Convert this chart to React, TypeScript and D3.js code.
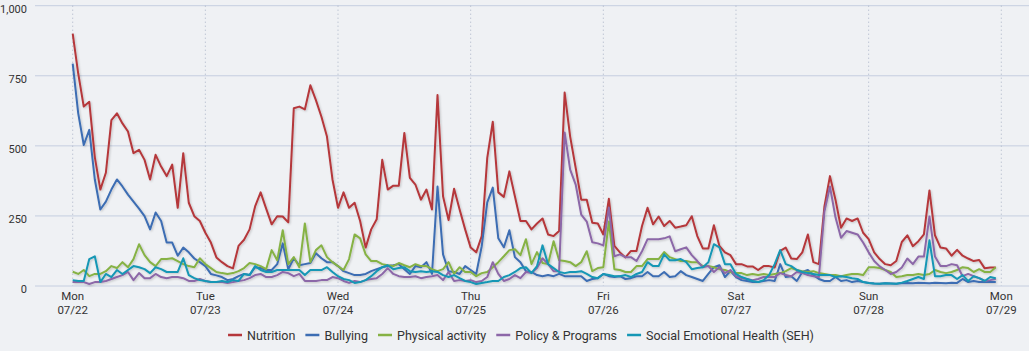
import React, { useEffect, useRef } from 'react';
import * as d3 from 'd3';

// hourly counts, Mon 07/22 00:00 .. Sun 07/28 23:00
const startDate = new Date(2019, 6, 22, 0, 0);
const endDate = new Date(2019, 6, 29, 0, 0);

const nutrition = [
  900, 758, 640, 657, 460, 344, 404, 592, 616, 580, 551, 474, 486, 450, 380, 468, 426, 392, 433, 279, 474, 297, 249, 232,
  190, 155, 102, 85, 71, 63, 143, 165, 202, 284, 334, 276, 220, 249, 248, 227, 634, 640, 630, 716, 663, 604, 533, 380,
  279, 334, 279, 297, 232, 137, 202, 238, 450, 344, 358, 358, 546, 386, 362, 308, 344, 273, 681, 320, 235, 347, 273, 202,
  137, 120, 178, 457, 586, 334, 318, 409, 320, 232, 232, 202, 223, 241, 184, 178, 196, 690, 533, 421, 308, 308, 226, 223,
  184, 311, 143, 120, 102, 125, 125, 214, 279, 220, 248, 214, 232, 208, 212, 217, 249, 178, 134, 134, 217, 143, 120, 110,
  78, 78, 70, 70, 57, 71, 71, 66, 125, 137, 98, 96, 120, 184, 85, 78, 284, 392, 308, 208, 241, 232, 241, 190,
  167, 120, 96, 78, 74, 89, 157, 181, 142, 160, 184, 341, 181, 137, 134, 108, 129, 108, 98, 89, 93, 63, 66, 66,
];

const bullying = [
  793, 616, 503, 557, 380, 273, 301, 344, 380, 355, 326, 301, 276, 249, 202, 262, 232, 155, 155, 108, 137, 120, 98, 85,
  71, 43, 38, 32, 21, 25, 35, 43, 39, 67, 64, 57, 57, 78, 152, 60, 99, 74, 78, 82, 117, 99, 85, 85,
  71, 53, 46, 39, 39, 43, 53, 60, 67, 71, 74, 78, 60, 43, 71, 67, 85, 43, 355, 113, 53, 50, 43, 71,
  57, 43, 142, 298, 351, 170, 138, 199, 103, 85, 53, 50, 39, 35, 39, 35, 43, 35, 35, 35, 35, 18, 25, 28,
  43, 35, 32, 35, 25, 28, 35, 35, 50, 35, 35, 50, 32, 35, 53, 39, 32, 25, 18, 43, 67, 74, 32, 53,
  32, 21, 18, 14, 14, 18, 21, 18, 78, 32, 35, 18, 50, 57, 39, 25, 18, 18, 32, 18, 21, 14, 18, 14,
  11, 9, 8, 10, 9, 8, 10, 11, 10, 12, 11, 10, 12, 11, 10, 12, 11, 25, 14, 18, 14, 14, 14, 14,
];

const physical = [
  51, 43, 57, 35, 43, 43, 53, 71, 64, 85, 67, 96, 149, 110, 85, 71, 96, 96, 99, 89, 78, 71, 67, 99,
  78, 64, 50, 46, 43, 46, 53, 64, 82, 78, 71, 60, 128, 92, 199, 78, 103, 67, 223, 85, 128, 145, 103, 85,
  71, 57, 96, 184, 170, 113, 89, 89, 78, 74, 71, 82, 74, 67, 78, 71, 71, 60, 53, 60, 85, 43, 67, 50,
  50, 35, 46, 50, 67, 85, 106, 128, 131, 110, 167, 78, 121, 82, 78, 160, 92, 89, 85, 71, 85, 124, 53, 64,
  67, 230, 60, 57, 50, 50, 71, 71, 96, 96, 96, 121, 103, 96, 89, 89, 85, 85, 71, 71, 67, 60, 57, 50,
  46, 46, 39, 43, 39, 43, 39, 43, 46, 53, 64, 57, 53, 50, 53, 46, 43, 39, 39, 35, 39, 43, 43, 39,
  67, 67, 64, 57, 50, 32, 35, 39, 39, 43, 39, 43, 57, 50, 46, 50, 57, 67, 64, 50, 60, 50, 50, 67,
];

const policy = [
  14, 14, 14, 7, 14, 14, 18, 25, 32, 39, 50, 21, 46, 28, 28, 43, 32, 28, 32, 32, 28, 18, 18, 25,
  18, 14, 14, 14, 11, 14, 18, 21, 28, 39, 43, 32, 32, 39, 50, 46, 35, 43, 18, 18, 18, 21, 21, 32,
  28, 18, 11, 18, 14, 21, 25, 28, 43, 64, 43, 35, 32, 32, 35, 28, 32, 35, 39, 21, 50, 18, 21, 18,
  21, 14, 18, 32, 85, 43, 18, 25, 39, 28, 50, 46, 64, 99, 78, 53, 53, 548, 415, 362, 255, 230, 156, 152,
  145, 280, 106, 113, 103, 103, 89, 124, 167, 167, 167, 170, 177, 124, 131, 138, 110, 89, 67, 71, 50, 67, 46, 57,
  35, 28, 25, 21, 25, 32, 32, 32, 46, 39, 35, 50, 46, 39, 35, 32, 266, 355, 245, 172, 196, 190, 184, 155,
  120, 89, 70, 57, 43, 50, 66, 98, 78, 105, 105, 248, 105, 71, 71, 78, 74, 35, 43, 35, 28, 18, 21, 25,
];

const seh = [
  21, 18, 18, 96, 106, 14, 43, 32, 57, 43, 57, 71, 67, 60, 46, 67, 60, 50, 50, 50, 99, 39, 28, 21,
  18, 14, 14, 18, 14, 21, 18, 43, 39, 71, 57, 50, 50, 57, 57, 57, 57, 57, 39, 57, 57, 57, 67, 50,
  35, 25, 21, 11, 14, 21, 35, 53, 67, 74, 60, 64, 67, 53, 50, 53, 50, 53, 50, 39, 32, 39, 28, 18,
  14, 7, 11, 14, 18, 18, 32, 39, 50, 64, 67, 46, 71, 145, 78, 64, 50, 46, 50, 50, 53, 43, 32, 28,
  43, 39, 35, 35, 39, 32, 43, 50, 85, 71, 71, 113, 92, 92, 96, 85, 60, 64, 67, 85, 149, 138, 78, 78,
  43, 32, 25, 18, 14, 21, 39, 78, 128, 78, 71, 57, 50, 46, 43, 39, 39, 39, 32, 35, 32, 28, 25, 14,
  11, 9, 8, 10, 9, 8, 12, 18, 25, 32, 25, 163, 35, 35, 39, 39, 25, 39, 18, 35, 28, 18, 32, 28,
];

const seriesNames = ['Nutrition', 'Bullying', 'Physical activity', 'Policy & Programs', 'Social Emotional Health (SEH)'];
const seriesValues = [nutrition, bullying, physical, policy, seh];
const seriesColors = ['#b5373b', '#3c6db3', '#86b244', '#8c67a8', '#1597b5'];
const yTicks = [0, 250, 500, 750, 1000];

const App = () => {
  const chartRef = useRef<SVGSVGElement | null>(null);

  useEffect(() => {
    if (!chartRef.current) return;
    document.body.style.margin = '0';

    const svg = d3.select(chartRef.current);
    svg.selectAll('*').remove();

    const width = 1029;
    const height = 351;
    const font = 'Roboto, "Noto Sans", sans-serif';

    const x = d3.scaleTime().domain([startDate, endDate]).range([72.7, 1001.3]);
    const y = d3.scaleLinear().domain([0, 1000]).range([286, 5.7]);

    svg.append('rect')
      .attr('width', width)
      .attr('height', height)
      .attr('fill', '#eff1f4');

    const defs = svg.append('defs');
    const filter = defs.append('filter')
      .attr('id', 'lineShadow')
      .attr('x', '-5%').attr('y', '-5%')
      .attr('width', '110%').attr('height', '110%');
    filter.append('feDropShadow')
      .attr('dx', 1).attr('dy', 1)
      .attr('stdDeviation', 1)
      .attr('flood-color', '#000')
      .attr('flood-opacity', 0.2);

    // horizontal grid
    svg.append('g')
      .selectAll('line')
      .data(yTicks)
      .enter()
      .append('line')
      .attr('x1', 35)
      .attr('x2', width)
      .attr('y1', d => y(d))
      .attr('y2', d => y(d))
      .attr('stroke', '#c5cee0')
      .attr('stroke-width', 1);

    // day lines
    const days = d3.timeDay.range(startDate, d3.timeDay.offset(endDate, 1));
    svg.append('g')
      .selectAll('line')
      .data(days)
      .enter()
      .append('line')
      .attr('x1', d => x(d))
      .attr('x2', d => x(d))
      .attr('y1', y(1000))
      .attr('y2', y(0))
      .attr('stroke', '#aab3c6')
      .attr('stroke-width', 1)
      .attr('stroke-dasharray', '1,3');

    // y labels
    svg.append('g')
      .selectAll('text')
      .data(yTicks)
      .enter()
      .append('text')
      .attr('x', 27)
      .attr('y', d => y(d) + 7)
      .attr('text-anchor', 'end')
      .attr('font-family', font)
      .attr('font-size', 11)
      .attr('fill', '#333')
      .text(d => d3.format(',')(d));

    // x labels
    const dayFmt = d3.timeFormat('%a');
    const dateFmt = d3.timeFormat('%m/%d');
    const xLabels = svg.append('g')
      .selectAll('g')
      .data(days)
      .enter()
      .append('g')
      .attr('transform', d => `translate(${x(d)},0)`);
    xLabels.append('text')
      .attr('y', 300)
      .attr('text-anchor', 'middle')
      .attr('font-family', font)
      .attr('font-size', 11.5)
      .attr('fill', '#333')
      .text(d => dayFmt(d));
    xLabels.append('text')
      .attr('y', 314)
      .attr('text-anchor', 'middle')
      .attr('font-family', font)
      .attr('font-size', 11.5)
      .attr('fill', '#333')
      .text(d => dateFmt(d));

    // lines
    const line = d3.line<number>()
      .x((d, i) => x(d3.timeHour.offset(startDate, i)))
      .y(d => y(d));

    const lines = svg.append('g').attr('filter', 'url(#lineShadow)');
    seriesValues.forEach((vals, s) => {
      lines.append('path')
        .datum(vals)
        .attr('d', line)
        .attr('fill', 'none')
        .attr('stroke', seriesColors[s])
        .attr('stroke-width', 2)
        .attr('stroke-linejoin', 'round');
    });

    // legend
    const legend = svg.append('g');
    let cx = 0;
    seriesNames.forEach((name, i) => {
      const item = legend.append('g').attr('transform', `translate(${cx},0)`);
      item.append('line')
        .attr('x1', 0).attr('x2', 14)
        .attr('y1', 335).attr('y2', 335)
        .attr('stroke', seriesColors[i])
        .attr('stroke-width', 2.5);
      const t = item.append('text')
        .attr('x', 19)
        .attr('y', 340)
        .attr('font-family', font)
        .attr('font-size', 12.5)
        .attr('fill', '#333')
        .text(name);
      const tw = (t.node() as SVGTextElement).getComputedTextLength();
      cx += 19 + tw + 10;
    });
    const total = cx - 10;
    legend.attr('transform', `translate(${521 - total / 2},0)`);
  }, []);

  return <svg ref={chartRef} width={1029} height={351} style={{ display: 'block' }} />;
};

export default App;
